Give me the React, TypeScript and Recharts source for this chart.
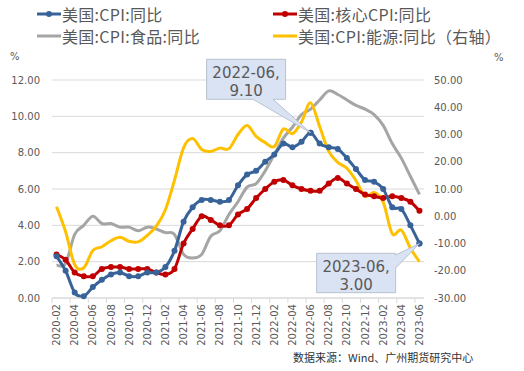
import React from "react";
import { LineChart, Line, XAxis, YAxis, CartesianGrid, ReferenceDot } from "recharts";

const months = [
  "2020-02","2020-03","2020-04","2020-05","2020-06","2020-07","2020-08","2020-09","2020-10","2020-11","2020-12",
  "2021-01","2021-02","2021-03","2021-04","2021-05","2021-06","2021-07","2021-08","2021-09","2021-10","2021-11","2021-12",
  "2022-01","2022-02","2022-03","2022-04","2022-05","2022-06","2022-07","2022-08","2022-09","2022-10","2022-11","2022-12",
  "2023-01","2023-02","2023-03","2023-04","2023-05","2023-06",
];
const cpi = [2.3,1.5,0.3,0.1,0.6,1.0,1.3,1.4,1.2,1.2,1.4,1.4,1.7,2.6,4.2,5.0,5.4,5.4,5.3,5.4,6.2,6.8,7.0,7.5,7.9,8.5,8.3,8.6,9.1,8.5,8.3,8.2,7.7,7.1,6.5,6.4,6.0,5.0,4.9,4.0,3.0];
const coreCpi = [2.4,2.1,1.4,1.2,1.2,1.6,1.7,1.7,1.6,1.6,1.6,1.4,1.3,1.6,3.0,3.8,4.5,4.3,4.0,4.0,4.6,4.9,5.5,6.0,6.4,6.5,6.2,6.0,5.9,5.9,6.3,6.6,6.3,6.0,5.7,5.6,5.5,5.6,5.5,5.3,4.8];
const foodCpi = [1.8,1.9,3.5,4.0,4.5,4.1,4.1,3.9,3.9,3.7,3.9,3.8,3.6,3.5,2.4,2.2,2.4,3.4,3.7,4.6,5.3,6.1,6.3,7.0,7.9,8.8,9.4,10.1,10.4,10.9,11.4,11.2,10.9,10.6,10.4,10.1,9.5,8.5,7.7,6.7,5.7];
const energyCpi = [3.5,-5.7,-17.7,-18.9,-12.6,-11.2,-9.0,-7.7,-9.2,-9.4,-7.0,-3.6,2.4,13.2,25.1,28.5,24.5,23.8,25.0,24.8,30.0,33.3,29.3,27.0,25.6,32.0,30.3,34.6,41.6,32.9,23.8,19.8,17.6,13.1,7.3,8.7,5.2,-6.4,-5.1,-11.7,-16.7];

const leftTicks = [0, 2, 4, 6, 8, 10, 12];
const rightTicks = [-30, -20, -10, 0, 10, 20, 30, 40, 50];

const seriesNames = ["美国:CPI:同比", "美国:核心CPI:同比", "美国:CPI:食品:同比", "美国:CPI:能源:同比（右轴）"];
const callouts = [
  { month: "2022-06", value: 9.1 },
  { month: "2023-06", value: 3.0 },
];
const sourceText = "数据来源：Wind、广州期货研究中心";

const BLUE = "#386399";
const RED = "#C00000";
const GRAY = "#A5A5A5";
const YELLOW = "#FFC000";
const TXT = "#595959";

const data = months.map((m, i) => ({
  month: m,
  cpi: cpi[i],
  core: coreCpi[i],
  food: foodCpi[i],
  energy: energyCpi[i],
}));

const excelSmooth: any = (context: any) => {
  let pts: number[][] = [];
  return {
    areaStart() {},
    areaEnd() {},
    lineStart() {
      pts = [];
    },
    point(x: number, y: number) {
      pts.push([+x, +y]);
    },
    lineEnd() {
      const n = pts.length;
      if (!n) return;
      context.moveTo(pts[0][0], pts[0][1]);
      const t = 1 / 6;
      for (let i = 0; i < n - 1; i++) {
        const p0 = pts[Math.max(0, i - 1)];
        const p1 = pts[i];
        const p2 = pts[i + 1];
        const p3 = pts[Math.min(n - 1, i + 2)];
        context.bezierCurveTo(
          p1[0] + (p2[0] - p0[0]) * t,
          p1[1] + (p2[1] - p0[1]) * t,
          p2[0] - (p3[0] - p1[0]) * t,
          p2[1] - (p3[1] - p1[1]) * t,
          p2[0],
          p2[1]
        );
      }
    },
  };
};

const W = 524;
const H = 371;
const PLOT_LEFT = 52;
const PLOT_RIGHT = 424;
const HALF_BAND = (PLOT_RIGHT - PLOT_LEFT) / months.length / 2;

const XTick = (props: any) => {
  const { x, y, payload } = props;
  return (
    <g>
      <line x1={x - HALF_BAND} x2={x - HALF_BAND} y1={y - 6} y2={y - 1} stroke="#D9D9D9" strokeWidth={1} />
      <text
        x={x}
        y={y}
        dy="0.36em"
        transform={`rotate(-90 ${x} ${y})`}
        textAnchor="end"
        fontSize={10}
        fontFamily="DejaVu Sans"
        fill={TXT}
      >
        {payload.value}
      </text>
    </g>
  );
};

const Callout = (props: any) => {
  const { viewBox, line1, line2, kind } = props;
  if (!viewBox) return null;
  const px = viewBox.x + (viewBox.width || 0) / 2;
  const py = viewBox.y + (viewBox.height || 0) / 2;
  let d = "";
  let L: number, R: number, T: number, B: number;
  if (kind === "above") {
    L = px - 104; R = px - 25; T = py - 73.4; B = py - 33.4;
    d = `M${L},${T} L${R},${T} L${R},${B} L${px - 37.6},${B} L${px},${py} L${px - 57.6},${B} L${L},${B} Z`;
  } else {
    L = px - 102.8; R = px - 23.8; T = py + 9.8; B = py + 49.2;
    d = `M${L},${T} L${R},${T} L${R},${py + 11.5} L${px},${py} L${R},${py + 24.5} L${R},${B} L${L},${B} Z`;
  }
  const cx = (L + R) / 2;
  return (
    <g>
      <path d={d} fill="#DAE3F3" stroke="#B8C2CE" strokeWidth={1} />
      <text x={cx} y={T + 13} dy="0.36em" textAnchor="middle" fontSize={15} fontFamily="DejaVu Sans" fill={TXT}>
        {line1}
      </text>
      <text x={cx} y={T + 31.5} dy="0.36em" textAnchor="middle" fontSize={15} fontFamily="DejaVu Sans" fill={TXT}>
        {line2}
      </text>
    </g>
  );
};

const legendItems = [
  { name: seriesNames[0], color: BLUE, dot: true, left: 37, top: 14 },
  { name: seriesNames[1], color: RED, dot: true, left: 273, top: 14 },
  { name: seriesNames[2], color: GRAY, dot: false, left: 37, top: 36 },
  { name: seriesNames[3], color: YELLOW, dot: false, left: 273, top: 36 },
];

export default function App() {
  return (
    <div style={{ position: "absolute", left: 0, top: 0, width: W, height: H, background: "#fff" }}>
      {legendItems.map((it) => (
        <div
          key={it.name}
          style={{
            position: "absolute",
            left: it.left,
            top: it.top - 10,
            height: 20,
            display: "flex",
            alignItems: "center",
            whiteSpace: "nowrap",
            fontFamily: "'Noto Sans CJK SC', sans-serif",
            fontSize: 16,
            letterSpacing: 0.3,
            color: TXT,
            lineHeight: "20px",
          }}
        >
          <svg width={24} height={10} style={{ display: "block" }}>
            <line x1={0} x2={24} y1={5} y2={5} stroke={it.color} strokeWidth={3} />
            {it.dot && <circle cx={12} cy={5} r={3} fill={it.color} />}
          </svg>
          <span style={{ marginLeft: 1 }}>{it.name}</span>
        </div>
      ))}
      <div style={{ position: "absolute", left: 10, top: 50, fontFamily: "DejaVu Sans", fontSize: 10, color: TXT, lineHeight: "13px" }}>%</div>
      <div style={{ position: "absolute", left: 494, top: 51, fontFamily: "DejaVu Sans", fontSize: 10, color: TXT, lineHeight: "13px" }}>%</div>
      <div
        style={{
          position: "absolute",
          left: 293,
          top: 349,
          fontFamily: "'Noto Sans CJK SC', sans-serif",
          fontSize: 11,
          color: "#333",
          lineHeight: "16px",
          whiteSpace: "nowrap",
        }}
      >
        {sourceText}
      </div>
      <div style={{ position: "absolute", left: 0, top: 0 }}>
        <LineChart width={W} height={H} data={data} margin={{ top: 80, right: 0, bottom: 0, left: 0 }}>
          <CartesianGrid yAxisId="left" vertical={false} stroke="#D9D9D9" strokeWidth={1} />
          <XAxis
            dataKey="month"
            interval={1}
            height={73}
            padding={{ left: HALF_BAND, right: HALF_BAND }}
            tickLine={false}
            tickSize={6}
            tickMargin={0}
            axisLine={{ stroke: "#D9D9D9" }}
            tick={<XTick />}
          />
          <YAxis
            yAxisId="left"
            orientation="left"
            width={52}
            domain={[0, 12]}
            ticks={leftTicks}
            interval={0}
            axisLine={false}
            tickLine={false}
            tickSize={10}
            tickMargin={2}
            tickFormatter={(v: number) => v.toFixed(2)}
            tick={{ fontSize: 10, fontFamily: "DejaVu Sans", fill: TXT }}
          />
          <YAxis
            yAxisId="right"
            orientation="right"
            width={100}
            domain={[-30, 50]}
            ticks={rightTicks}
            interval={0}
            axisLine={false}
            tickLine={false}
            tickSize={8}
            tickMargin={2}
            tickFormatter={(v: number) => v.toFixed(2)}
            tick={{ fontSize: 10, fontFamily: "DejaVu Sans", fill: TXT, textAnchor: "start" }}
          />
          <Line yAxisId="left" dataKey="food" name={seriesNames[2]} type={excelSmooth} stroke={GRAY} strokeWidth={3} dot={false} activeDot={false} isAnimationActive={false} />
          <Line yAxisId="right" dataKey="energy" name={seriesNames[3]} type={excelSmooth} stroke={YELLOW} strokeWidth={3} dot={false} activeDot={false} isAnimationActive={false} />
          <Line yAxisId="left" dataKey="core" name={seriesNames[1]} type={excelSmooth} stroke={RED} strokeWidth={3} dot={{ r: 3, fill: RED, stroke: RED, strokeWidth: 0 }} activeDot={false} isAnimationActive={false} />
          <Line yAxisId="left" dataKey="cpi" name={seriesNames[0]} type={excelSmooth} stroke={BLUE} strokeWidth={3} dot={{ r: 3, fill: BLUE, stroke: BLUE, strokeWidth: 0 }} activeDot={false} isAnimationActive={false} />
          {callouts.map((c, i) => (
            <ReferenceDot
              key={c.month}
              yAxisId="left"
              x={c.month}
              y={c.value}
              r={3}
              fill={BLUE}
              stroke={BLUE}
              strokeWidth={0}
              label={<Callout kind={i === 0 ? "above" : "below"} line1={`${c.month},`} line2={c.value.toFixed(2)} />}
            />
          ))}
        </LineChart>
      </div>
    </div>
  );
}
